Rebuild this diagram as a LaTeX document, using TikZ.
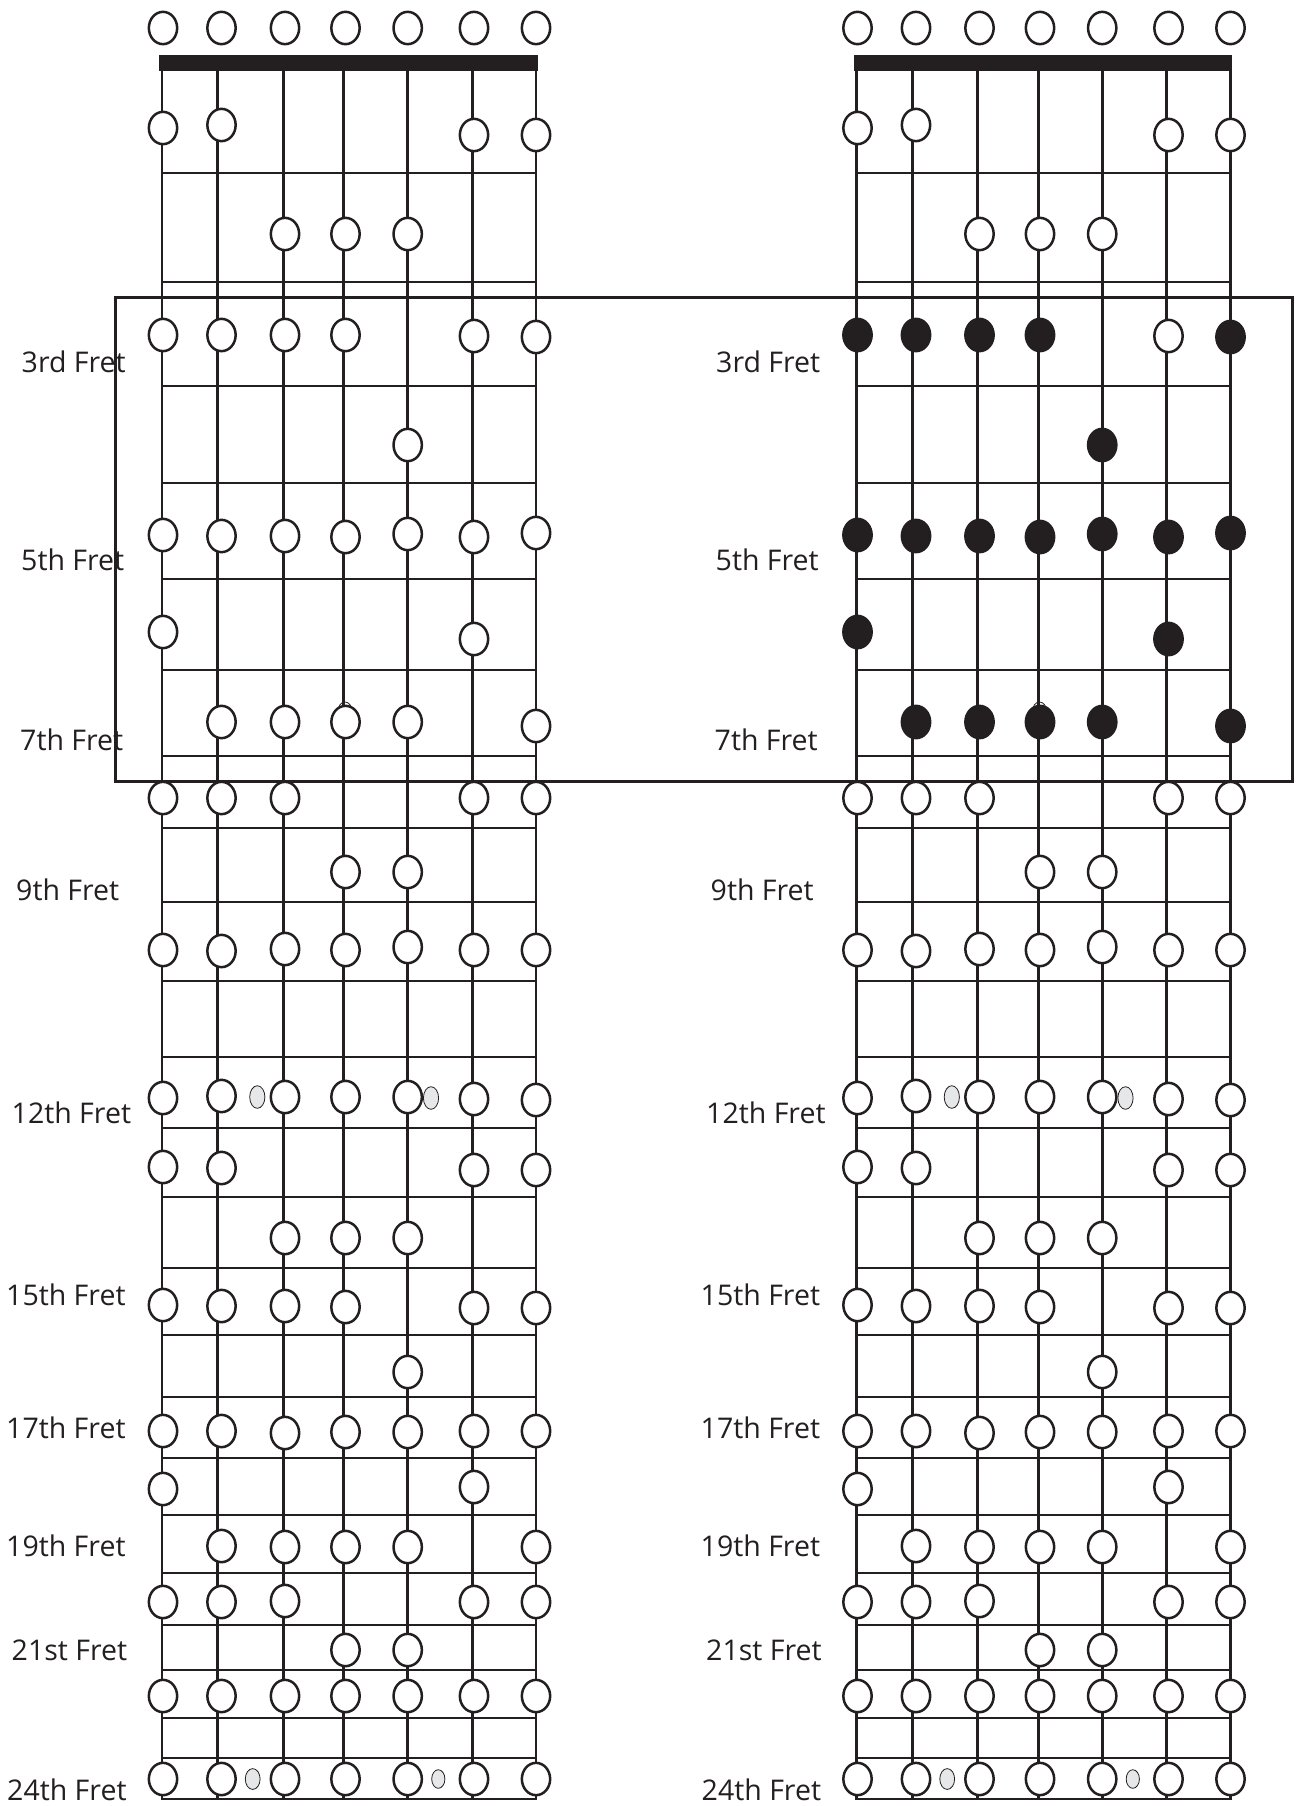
\documentclass[tikz,border=0pt]{standalone}
\usepackage{fontspec}
\setmainfont{Open Sans}
\usetikzlibrary{shapes.geometric}
\definecolor{ink}{HTML}{231F20}
\definecolor{dotgrey}{HTML}{E6E7E8}
\tikzset{
  wire/.style={draw=ink, line width=2.7pt},
  opendot/.style={ellipse, draw=ink, fill=white, line width=2.5pt, minimum width=28.3pt, minimum height=32.3pt, inner sep=0pt},
  fulldot/.style={opendot, fill=ink},
  greydot/.style={ellipse, draw=ink, fill=dotgrey, line width=0.8pt, inner sep=0pt},
  fretlabel/.style={anchor=base west, inner sep=0pt, font=\fontsize{28.5}{34}\selectfont, text=ink},
  frame/.style={draw=ink, line width=2.6pt},
}
\newcommand\fboard[3]{%
\begin{scope}[xshift=#1pt]
  \fill[ink] (159.3,55) rectangle (537.7,71);
  \foreach \sx in {162,217.7,283.3,343.7,407.7,472.3,536}
    \draw[wire] (\sx,71) -- (\sx,1800);
  \foreach \fy in {173,282,386,483,579,670,756,828,902,981,1057,1128,1197,1268,1335,1397,1458,1515,1573,1625,1670,1718,1758,1799}
    \draw[wire] (161,\fy) -- (536,\fy);
  \draw[ink, line width=0.8pt] (345,711) ellipse [x radius=7, y radius=9];
  \foreach \f/\s/\yy in {
    0/1/28,0/2/28,0/3/28,0/4/28,0/5/28,0/6/28,0/7/28,
    1/1/128,1/2/125,1/6/135,1/7/135,
    2/3/234,2/4/234,2/5/234,
    3/1/335,3/2/335,3/3/335,3/4/335,3/6/336,3/7/337,
    4/5/445,
    5/1/535,5/2/536,5/3/536,5/4/537,5/5/534,5/6/537,5/7/533,
    6/1/632,6/6/639,
    7/2/722,7/3/722,7/4/722,7/5/722,7/7/726,
    8/1/798,8/2/798,8/3/798,8/6/798,8/7/798,
    9/4/872,9/5/872,
    10/1/950,10/2/951,10/3/949,10/4/950,10/5/947,10/6/950,10/7/950,
    12/1/1098,12/2/1096,12/3/1097,12/4/1097,12/5/1097,12/6/1099,12/7/1100,
    13/1/1167,13/2/1168,13/6/1170,13/7/1170,
    14/3/1238,14/4/1238,14/5/1238,
    15/1/1305,15/2/1306,15/3/1306,15/4/1307,15/6/1308,15/7/1308,
    16/5/1372,
    17/1/1431,17/2/1431,17/3/1433,17/4/1432,17/5/1432,17/6/1431,17/7/1431,
    18/1/1489,18/6/1487,
    19/2/1546,19/3/1547,19/4/1547,19/5/1547,19/7/1547,
    20/1/1602,20/2/1602,20/3/1601,20/6/1602,20/7/1602,
    21/4/1650,21/5/1650,
    22/1/1696,22/2/1696,22/3/1696,22/4/1696,22/5/1696,22/6/1696,22/7/1696,
    24/1/1779,24/2/1779,24/3/1779,24/4/1779,24/5/1779,24/6/1779,24/7/1779}{
    \pgfmathsetmacro\cx{{163,221.5,285,345.5,407.7,474,536}[\s-1]}
    \pgfmathtruncatemacro\isfull{#3*(\f>2)*(\f<8)*(1-(\f==3)*(\s==6))}
    \ifnum\isfull=1
      \node[fulldot] (#2-\f-\s) at (\cx,\yy) {};
    \else
      \node[opendot] (#2-\f-\s) at (\cx,\yy) {};
    \fi
  }
  \node[greydot, minimum width=15.2pt, minimum height=22.6pt] (#2-g12a) at (257.3,1097) {};
  \node[greydot, minimum width=15.2pt, minimum height=22.6pt] (#2-g12b) at (431,1098) {};
  \node[greydot, minimum width=14.8pt, minimum height=20.8pt] (#2-g24a) at (252.7,1779) {};
  \node[greydot, minimum width=13.2pt, minimum height=18.6pt] (#2-g24b) at (438.3,1779) {};
  \node[fretlabel] (#2-l3)  at (21.5,372)    {3rd Fret};
  \node[fretlabel] (#2-l5)  at (21,570)      {5th Fret};
  \node[fretlabel] (#2-l7)  at (20,750.7)    {7th Fret};
  \node[fretlabel] (#2-l9)  at (16,900)      {9th Fret};
  \node[fretlabel] (#2-l12) at (11.5,1123.3) {12th Fret};
  \node[fretlabel] (#2-l15) at (6,1305)      {15th Fret};
  \node[fretlabel] (#2-l17) at (6,1438.3)    {17th Fret};
  \node[fretlabel] (#2-l19) at (6,1556.7)    {19th Fret};
  \node[fretlabel] (#2-l21) at (11.5,1660)   {21st Fret};
  \node[fretlabel] (#2-l24) at (7,1800)      {24th Fret};
\end{scope}}

\begin{document}
\begin{tikzpicture}[x=1pt,y=-1pt]
\useasboundingbox (0,0) rectangle (1298,1806);
\fboard{0}{L}{0}
\fboard{694.5}{R}{1}
\draw[frame] (115.7,297.7) rectangle (1292.3,781.7);
\end{tikzpicture}
\end{document}
